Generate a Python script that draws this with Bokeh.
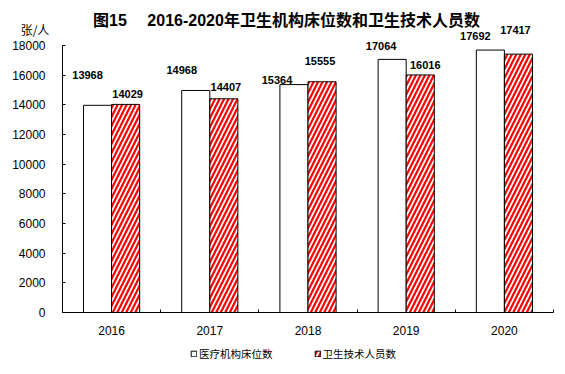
from bokeh.plotting import figure
from bokeh.models import ColumnDataSource, Range1d, FixedTicker, Label, Legend, LegendItem
from bokeh.core.properties import value
from bokeh.transform import dodge
from bokeh.embed import file_html
from bokeh.resources import INLINE

# ---- data ----
years = ["2016", "2017", "2018", "2019", "2020"]
beds = [13968, 14968, 15364, 17064, 17692]
staff = [14029, 14407, 15555, 16016, 17417]
y_ticks = [0, 2000, 4000, 6000, 8000, 10000, 12000, 14000, 16000, 18000]
series_names = ["医疗机构床位数", "卫生技术人员数"]
title_text = "图15　 2016-2020年卫生机构床位数和卫生技术人员数"
unit_text = "张/人"

# ---- label placement styles (pixel offsets) ----
bed_label_dx = [-10, -14, -17, -11, -15]
bed_label_dy = [-30, -20, -5, -13, -14]
staff_label_dx = [2, 2, -2, 5, -3]
staff_label_dy = [-10, -12, -21, -10, -24]

NUM_FONT = "Liberation Sans"
CJK_FONT = "Noto Sans CJK SC"
MIX_FONT = "Liberation Sans, 'Noto Sans CJK SC'"

# ---- layout (canvas pixels) ----
W, H = 565, 372
ax_left, ax_right = 62, 553      # x-axis extent
ax_bottom, ax_top = 312, 45      # y of 0 and of top tick

ncat = len(years)
px_cat = (ax_right - ax_left) / ncat
px_val = (ax_bottom - ax_top) / y_ticks[-1]

pos = [i + 0.5 for i in range(ncat)]
src = ColumnDataSource(dict(
    pos=pos, beds=beds, staff=staff,
    beds_txt=[str(v) for v in beds], staff_txt=[str(v) for v in staff],
    bdx=bed_label_dx, bdy=bed_label_dy, sdx=staff_label_dx, sdy=staff_label_dy,
))

p = figure(
    width=W, height=H,
    x_range=Range1d(-ax_left / px_cat, ncat + (W - ax_right) / px_cat),
    y_range=Range1d(-(H - ax_bottom) / px_val, ax_bottom / px_val),
    output_backend="svg", toolbar_location=None,
    min_border_left=0, min_border_right=0, min_border_top=0, min_border_bottom=0,
)
p.outline_line_color = None
p.grid.visible = False
p.background_fill_color = "white"
p.border_fill_color = "white"

off = 0.143
bw = 0.286
r1 = p.vbar(x=dodge("pos", -off, range=p.x_range), top="beds", width=bw, source=src,
            fill_color="white", line_color="black", line_width=1)
r2 = p.vbar(x=dodge("pos", off, range=p.x_range), top="staff", width=bw, source=src,
            fill_color="white", line_color="black", line_width=1,
            hatch_pattern="/", hatch_color="#ff0000", hatch_scale=9, hatch_weight=2.2)

p.text(x=dodge("pos", -off, range=p.x_range), y="beds", text="beds_txt", source=src,
       x_offset="bdx", y_offset="bdy", text_align="center", text_baseline="middle",
       text_font=value(NUM_FONT), text_font_style="bold", text_font_size="11px",
       text_color="black")
p.text(x=dodge("pos", off, range=p.x_range), y="staff", text="staff_txt", source=src,
       x_offset="sdx", y_offset="sdy", text_align="center", text_baseline="middle",
       text_font=value(NUM_FONT), text_font_style="bold", text_font_size="11px",
       text_color="black")

# y axis
yax = p.yaxis[0]
yax.fixed_location = 0
yax.ticker = FixedTicker(ticks=y_ticks, minor_ticks=[])
yax.bounds = (0, y_ticks[-1])
yax.major_tick_in = 3
yax.major_tick_out = 0
yax.minor_tick_line_color = None
yax.major_label_standoff = 17
yax.major_label_text_font = NUM_FONT
yax.major_label_text_font_size = "12px"
yax.major_label_text_color = "black"
yax.axis_line_color = "black"
yax.major_tick_line_color = "black"

# x axis
xax = p.xaxis[0]
xax.fixed_location = 0
xax.bounds = (0, ncat)
xax.ticker = FixedTicker(ticks=pos, minor_ticks=list(range(ncat + 1)))
xax.major_label_overrides = {pv: y for pv, y in zip(pos, years)}
xax.major_tick_line_color = None
xax.major_tick_in = 0
xax.major_tick_out = 0
xax.minor_tick_in = 3
xax.minor_tick_out = 0
xax.minor_tick_line_color = "black"
xax.major_label_standoff = 13
xax.major_label_text_font = NUM_FONT
xax.major_label_text_font_size = "12px"
xax.major_label_text_color = "black"
xax.axis_line_color = "black"

# title and unit (screen units: from frame bottom-left, y upward)
p.add_layout(Label(x=286, y=H - 19.5, x_units="screen", y_units="screen", text=title_text,
                   text_align="center", text_baseline="middle", text_font=MIX_FONT,
                   text_font_style="bold", text_font_size="16px", text_color="black"))
p.add_layout(Label(x=34.5, y=H - 29, x_units="screen", y_units="screen", text=unit_text,
                   text_align="center", text_baseline="middle", text_font=CJK_FONT,
                   text_font_size="12px", text_color="black"))

legend = Legend(items=[LegendItem(label=series_names[0], renderers=[r1]),
                       LegendItem(label=series_names[1], renderers=[r2])],
                orientation="horizontal", location=(190, H - 361), margin=0, padding=0,
                glyph_width=7, glyph_height=7, label_standoff=2, spacing=41,
                label_height=12, label_text_font=CJK_FONT, label_text_font_size="10.5px",
                label_text_color="black", border_line_color=None,
                background_fill_alpha=0)
p.add_layout(legend, "center")

open("out.html", "w").write(file_html(p, INLINE))
